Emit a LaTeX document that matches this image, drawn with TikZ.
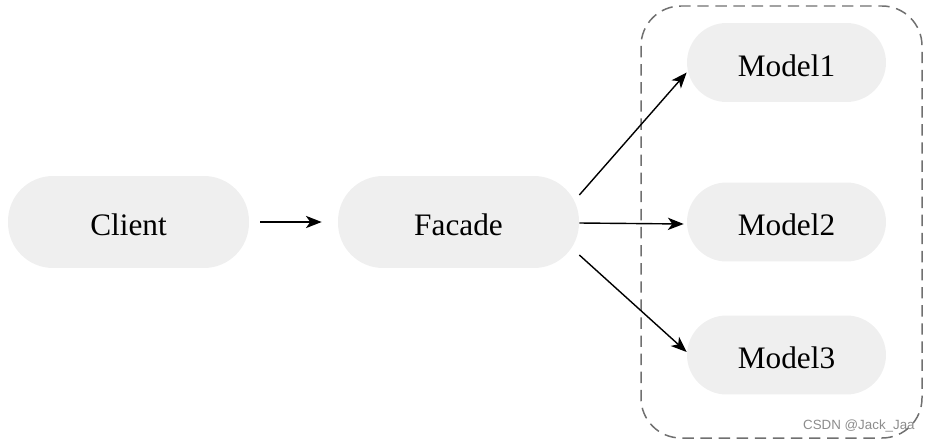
\documentclass[tikz,border=0pt]{standalone}
\usepackage{fontspec}
\setmainfont{Liberation Serif}
\newfontfamily\markfont{Liberation Sans}
\usetikzlibrary{arrows.meta}
\definecolor{boxgray}{HTML}{EFEFEF}
\definecolor{dashgray}{HTML}{707070}
\begin{document}
\begin{tikzpicture}[x=0.02cm, y=-0.02cm,
    font=\fontsize{17.8}{20}\selectfont,
    pill/.style={fill=boxgray, rounded corners=0.9cm, minimum width=4.82cm, minimum height=1.84cm, inner sep=0pt, text height=15.5pt, text depth=0pt},
    model/.style={pill, rounded corners=0.79cm, minimum width=3.98cm, minimum height=1.58cm},
    arr/.style={-{Stealth[length=9pt, width=7pt, inset=2.5pt]}, line width=0.8pt}]
    \useasboundingbox (0, 0) rectangle (930, 443);
    % dashed group round the models
    \draw[dashgray, line width=0.85pt, dash pattern=on 6.5pt off 3.8pt, rounded corners=0.8cm] (641, 6) rectangle (922, 438);
    % nodes
    \node[pill] (client) at (128.5, 222) {Client};
    \node[pill] (facade) at (458.5, 222) {Facade};
    \node[model] (model1) at (786.5, 62.5) {Model1};
    \node[model] (model2) at (786.5, 222) {Model2};
    \node[model] (model3) at (786.5, 355) {Model3};
    % arrows
    \draw[arr, shorten <=0.22cm, shorten >=0.32cm] (client) -- (facade);
    \draw[arr] ([yshift=0.54cm]facade.east) -- ([yshift=-0.2cm]model1.west);
    \draw[arr] ([yshift=-0.02cm]facade.east) -- ([xshift=-0.06cm, yshift=-0.04cm]model2.west);
    \draw[arr] ([yshift=-0.66cm]facade.east) -- ([yshift=0.06cm]model3.west);
    % watermark
    \node[anchor=south east, text=black!45, font=\markfont\fontsize{7.6}{8}\selectfont, inner sep=0pt] (mark) at (915, 432) {CSDN @Jack\_Jaa};
\end{tikzpicture}
\end{document}
